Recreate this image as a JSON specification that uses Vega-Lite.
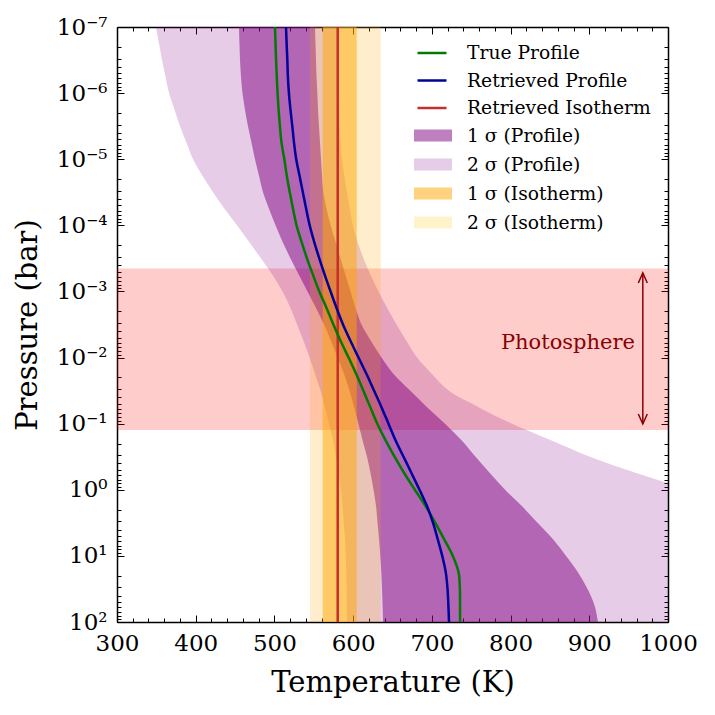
{
  "$schema": "https://vega.github.io/schema/vega-lite/v6.json",
  "width": 551,
  "height": 595,
  "autosize": {"type": "none"},
  "padding": {"left": 117, "top": 27, "right": 47, "bottom": 93},
  "config": {
    "view": {"stroke": null},
    "font": "DejaVu Serif",
    "axis": {
      "grid": false,
      "domain": false,
      "labelFont": "DejaVu Serif",
      "labelFontSize": 23,
      "labelColor": "#000",
      "tickColor": "#000",
      "tickWidth": 1,
      "titleFont": "DejaVu Serif",
      "titleFontSize": 29,
      "titleFontWeight": "normal",
      "titleColor": "#000",
      "labelFlush": false,
      "labelOverlap": false,
      "labelBound": false,
      "zindex": 1
    },
    "legend": {
      "labelFont": "DejaVu Serif",
      "labelFontSize": 18.7,
      "labelColor": "#000",
      "labelLimit": 400
    }
  },
  "datasets": {
    "profile": [
      {"p": 1e-7, "t_true": 500.7, "t_ret": 514.7, "s1_lo": 455.0, "s1_hi": 551.6, "s2_lo": 349.5, "s2_hi": 580.8},
      {"p": 1.778e-7, "t_true": 501.4, "t_ret": 515.5, "s1_lo": 455.6, "s1_hi": 552.2, "s2_lo": 353.4, "s2_hi": 581.0},
      {"p": 3.162e-7, "t_true": 502.1, "t_ret": 516.4, "s1_lo": 456.3, "s1_hi": 552.8, "s2_lo": 357.2, "s2_hi": 581.4},
      {"p": 5.623e-7, "t_true": 503.0, "t_ret": 517.1, "s1_lo": 457.5, "s1_hi": 553.5, "s2_lo": 361.6, "s2_hi": 581.7},
      {"p": 1e-6, "t_true": 504.0, "t_ret": 518.4, "s1_lo": 459.4, "s1_hi": 554.5, "s2_lo": 366.1, "s2_hi": 582.1},
      {"p": 1.778e-6, "t_true": 505.3, "t_ret": 520.4, "s1_lo": 462.6, "s1_hi": 555.4, "s2_lo": 373.1, "s2_hi": 582.3},
      {"p": 3.162e-6, "t_true": 507.0, "t_ret": 522.7, "s1_lo": 466.4, "s1_hi": 556.6, "s2_lo": 380.0, "s2_hi": 582.7},
      {"p": 5.623e-6, "t_true": 509.0, "t_ret": 524.9, "s1_lo": 470.9, "s1_hi": 557.9, "s2_lo": 388.3, "s2_hi": 584.0},
      {"p": 1e-5, "t_true": 512.6, "t_ret": 527.7, "s1_lo": 475.3, "s1_hi": 559.2, "s2_lo": 396.6, "s2_hi": 585.9},
      {"p": 1.778e-5, "t_true": 515.7, "t_ret": 531.9, "s1_lo": 480.4, "s1_hi": 560.5, "s2_lo": 408.6, "s2_hi": 588.8},
      {"p": 3.162e-5, "t_true": 519.5, "t_ret": 536.1, "s1_lo": 485.5, "s1_hi": 562.1, "s2_lo": 422.0, "s2_hi": 592.2},
      {"p": 5.623e-5, "t_true": 523.6, "t_ret": 540.3, "s1_lo": 493.1, "s1_hi": 566.2, "s2_lo": 436.6, "s2_hi": 595.8},
      {"p": 1e-4, "t_true": 528.1, "t_ret": 544.8, "s1_lo": 501.4, "s1_hi": 571.3, "s2_lo": 452.5, "s2_hi": 599.6},
      {"p": 1.778e-4, "t_true": 534.5, "t_ret": 550.5, "s1_lo": 510.3, "s1_hi": 577.6, "s2_lo": 467.7, "s2_hi": 605.6},
      {"p": 3.162e-4, "t_true": 541.3, "t_ret": 557.0, "s1_lo": 520.4, "s1_hi": 584.0, "s2_lo": 483.0, "s2_hi": 613.2},
      {"p": 5.623e-4, "t_true": 549.0, "t_ret": 563.9, "s1_lo": 531.2, "s1_hi": 590.3, "s2_lo": 497.6, "s2_hi": 622.1},
      {"p": 1e-3, "t_true": 557.0, "t_ret": 571.3, "s1_lo": 542.0, "s1_hi": 596.7, "s2_lo": 510.3, "s2_hi": 632.2},
      {"p": 1.778e-3, "t_true": 566.2, "t_ret": 578.9, "s1_lo": 552.8, "s1_hi": 603.0, "s2_lo": 520.4, "s2_hi": 643.3},
      {"p": 3.162e-3, "t_true": 574.9, "t_ret": 587.1, "s1_lo": 563.0, "s1_hi": 610.6, "s2_lo": 528.7, "s2_hi": 655.1},
      {"p": 5.623e-3, "t_true": 584.1, "t_ret": 596.7, "s1_lo": 571.9, "s1_hi": 622.7, "s2_lo": 537.0, "s2_hi": 667.8},
      {"p": 0.01, "t_true": 594.2, "t_ret": 606.8, "s1_lo": 580.1, "s1_hi": 636.0, "s2_lo": 544.6, "s2_hi": 681.2},
      {"p": 0.01778, "t_true": 603.9, "t_ret": 617.0, "s1_lo": 588.4, "s1_hi": 651.3, "s2_lo": 551.6, "s2_hi": 700.2},
      {"p": 0.03162, "t_true": 612.9, "t_ret": 626.5, "s1_lo": 595.4, "s1_hi": 672.3, "s2_lo": 558.5, "s2_hi": 721.2},
      {"p": 0.05623, "t_true": 621.8, "t_ret": 636.0, "s1_lo": 601.1, "s1_hi": 693.9, "s2_lo": 564.3, "s2_hi": 759.3},
      {"p": 0.1, "t_true": 630.7, "t_ret": 644.9, "s1_lo": 606.8, "s1_hi": 716.7, "s2_lo": 569.3, "s2_hi": 801.8},
      {"p": 0.1778, "t_true": 641.1, "t_ret": 653.8, "s1_lo": 611.9, "s1_hi": 737.7, "s2_lo": 574.4, "s2_hi": 851.4},
      {"p": 0.3162, "t_true": 652.6, "t_ret": 664.0, "s1_lo": 617.6, "s1_hi": 755.5, "s2_lo": 578.2, "s2_hi": 900.9},
      {"p": 0.5623, "t_true": 665.0, "t_ret": 674.2, "s1_lo": 622.1, "s1_hi": 773.9, "s2_lo": 581.4, "s2_hi": 960.7},
      {"p": 1, "t_true": 678.4, "t_ret": 684.3, "s1_lo": 625.9, "s1_hi": 793.0, "s2_lo": 584.6, "s2_hi": 1025.5},
      {"p": 1.778, "t_true": 692.2, "t_ret": 693.9, "s1_lo": 629.1, "s1_hi": 814.6, "s2_lo": 586.5, "s2_hi": 1091.6},
      {"p": 3.162, "t_true": 704.4, "t_ret": 701.5, "s1_lo": 631.0, "s1_hi": 834.2, "s2_lo": 588.1, "s2_hi": 1155.1},
      {"p": 5.623, "t_true": 715.7, "t_ret": 707.5, "s1_lo": 632.9, "s1_hi": 853.9, "s2_lo": 589.7, "s2_hi": 1218.6},
      {"p": 10, "t_true": 726.6, "t_ret": 713.2, "s1_lo": 634.5, "s1_hi": 870.5, "s2_lo": 590.7, "s2_hi": 1269.4},
      {"p": 17.78, "t_true": 734.0, "t_ret": 717.7, "s1_lo": 635.8, "s1_hi": 885.7, "s2_lo": 591.3, "s2_hi": 1320.2},
      {"p": 31.62, "t_true": 735.6, "t_ret": 719.9, "s1_lo": 636.7, "s1_hi": 897.8, "s2_lo": 591.7, "s2_hi": 1364.7},
      {"p": 56.23, "t_true": 735.8, "t_ret": 721.0, "s1_lo": 637.4, "s1_hi": 906.7, "s2_lo": 592.0, "s2_hi": 1409.2},
      {"p": 100, "t_true": 735.8, "t_ret": 721.8, "s1_lo": 638.0, "s1_hi": 911.1, "s2_lo": 592.2, "s2_hi": 1447.3}
    ],
    "isotherm": [
      {"t_iso": 580.4, "t_1lo": 561.3, "t_1hi": 604.5, "t_2lo": 545.2, "t_2hi": 635.0}
    ],
    "photosphere": [
      {"p_top": 4.5e-4, "p_bot": 0.125, "t_arrow": 968, "p_arrow_top": 5.25e-4, "p_arrow_bot": 0.101, "t_label": 958, "p_label": 6.0e-3, "label": "Photosphere"}
    ],
    "bands": [
      {"band": "1 σ (Profile)"},
      {"band": "2 σ (Profile)"},
      {"band": "1 σ (Isotherm)"},
      {"band": "2 σ (Isotherm)"}
    ]
  },
  "resolve": {"axis": {"x": "independent", "y": "independent"}},
  "layer": [
    {
      "data": {"name": "photosphere"},
      "mark": {"type": "rect", "fill": "#ff0000", "opacity": 0.2},
      "encoding": {
        "y": {"field": "p_top", "type": "quantitative", "scale": {"type": "log", "domain": [1e-7, 100], "reverse": true, "nice": false}, "axis": null},
        "y2": {"field": "p_bot"}
      }
    },
    {
      "data": {"name": "profile"},
      "mark": {"type": "area", "orient": "horizontal", "fill": "#800080", "opacity": 0.2, "interpolate": "catmull-rom", "clip": true},
      "encoding": {
        "x": {
          "field": "s2_lo", "type": "quantitative",
          "scale": {"domain": [300, 1000], "nice": false, "zero": false},
          "axis": {
            "orient": "bottom",
            "values": [300, 400, 500, 600, 700, 800, 900, 1000],
            "format": "d",
            "tickSize": -7,
            "labelPadding": 17,
            "domain": true, "domainColor": "#000", "domainWidth": 1.5,
            "title": "Temperature (K)",
            "titlePadding": 13
          }
        },
        "x2": {"field": "s2_hi"},
        "y": {
          "field": "p", "type": "quantitative",
          "scale": {"type": "log", "domain": [1e-7, 100], "reverse": true, "nice": false},
          "axis": {
            "orient": "left",
            "values": [1e-7, 1e-6, 1e-5, 1e-4, 1e-3, 1e-2, 1e-1, 1, 10, 100],
            "labelExpr": "'10' + (datum.value < 0.5 ? '⁻' : '') + ['⁰','¹','²','³','⁴','⁵','⁶','⁷','⁸','⁹'][abs(round(log(datum.value) / LN10))]",
            "tickSize": -7,
            "labelPadding": 17,
            "domain": true, "domainColor": "#000", "domainWidth": 1.5,
            "title": "Pressure (bar)",
            "titlePadding": 14
          }
        }
      }
    },
    {
      "data": {"name": "profile"},
      "mark": {"type": "area", "orient": "horizontal", "fill": "#800080", "opacity": 0.5, "interpolate": "catmull-rom", "clip": true},
      "encoding": {
        "x": {
          "field": "s1_lo", "type": "quantitative",
          "scale": {"domain": [300, 1000], "nice": false, "zero": false},
          "axis": {
            "orient": "bottom",
            "values": [300, 320, 340, 360, 380, 400, 420, 440, 460, 480, 500, 520, 540, 560, 580, 600, 620, 640, 660, 680, 700, 720, 740, 760, 780, 800, 820, 840, 860, 880, 900, 920, 940, 960, 980, 1000],
            "tickSize": -4, "labels": false, "title": null
          }
        },
        "x2": {"field": "s1_hi"},
        "y": {
          "field": "p", "type": "quantitative",
          "scale": {"type": "log", "domain": [1e-7, 100], "reverse": true, "nice": false},
          "axis": {
            "orient": "left",
            "values": [2e-7, 3e-7, 4e-7, 5e-7, 6e-7, 7e-7, 8e-7, 9e-7, 2e-6, 3e-6, 4e-6, 5e-6, 6e-6, 7e-6, 8e-6, 9e-6, 2e-5, 3e-5, 4e-5, 5e-5, 6e-5, 7e-5, 8e-5, 9e-5, 2e-4, 3e-4, 4e-4, 5e-4, 6e-4, 7e-4, 8e-4, 9e-4, 2e-3, 3e-3, 4e-3, 5e-3, 6e-3, 7e-3, 8e-3, 9e-3, 0.02, 0.03, 0.04, 0.05, 0.06, 0.07, 0.08, 0.09, 0.2, 0.3, 0.4, 0.5, 0.6, 0.7, 0.8, 0.9, 2, 3, 4, 5, 6, 7, 8, 9, 20, 30, 40, 50, 60, 70, 80, 90],
            "tickSize": -4, "labels": false, "title": null
          }
        }
      }
    },
    {
      "data": {"name": "isotherm"},
      "mark": {"type": "rect", "fill": "#ffa500", "opacity": 0.2},
      "encoding": {
        "x": {"field": "t_2lo", "type": "quantitative", "scale": {"domain": [300, 1000], "nice": false, "zero": false}, "axis": null},
        "x2": {"field": "t_2hi"}
      }
    },
    {
      "data": {"name": "isotherm"},
      "mark": {"type": "rect", "fill": "#ffa500", "opacity": 0.5},
      "encoding": {
        "x": {"field": "t_1lo", "type": "quantitative", "scale": {"domain": [300, 1000], "nice": false, "zero": false}, "axis": null},
        "x2": {"field": "t_1hi"}
      }
    },
    {
      "data": {"name": "isotherm"},
      "mark": {"type": "rule", "strokeWidth": 2.5},
      "encoding": {
        "x": {"field": "t_iso", "type": "quantitative", "scale": {"domain": [300, 1000], "nice": false, "zero": false}, "axis": null},
        "stroke": {"datum": "Retrieved Isotherm", "type": "nominal"}
      }
    },
    {
      "data": {"name": "profile"},
      "mark": {"type": "line", "strokeWidth": 2.5, "interpolate": "catmull-rom", "clip": true},
      "encoding": {
        "x": {
          "field": "t_true", "type": "quantitative",
          "scale": {"domain": [300, 1000], "nice": false, "zero": false},
          "axis": {
            "orient": "top",
            "values": [300, 400, 500, 600, 700, 800, 900, 1000],
            "tickSize": -7, "labels": false, "title": null,
            "domain": true, "domainColor": "#000", "domainWidth": 1.5
          }
        },
        "y": {
          "field": "p", "type": "quantitative",
          "scale": {"type": "log", "domain": [1e-7, 100], "reverse": true, "nice": false},
          "axis": {
            "orient": "right",
            "values": [1e-7, 1e-6, 1e-5, 1e-4, 1e-3, 1e-2, 1e-1, 1, 10, 100],
            "tickSize": -7, "labels": false, "title": null,
            "domain": true, "domainColor": "#000", "domainWidth": 1.5
          }
        },
        "order": {"field": "p", "type": "quantitative"},
        "stroke": {
          "datum": "True Profile", "type": "nominal",
          "scale": {"domain": ["True Profile", "Retrieved Profile", "Retrieved Isotherm"], "range": ["#007a00", "#00009c", "#c62d2d"]},
          "legend": {
            "title": null,
            "orient": "none",
            "legendX": 299,
            "legendY": 10,
            "padding": 0,
            "symbolType": "stroke",
            "symbolSize": 841,
            "symbolStrokeWidth": 2.5,
            "labelOffset": 19,
            "rowPadding": 1.5
          }
        }
      }
    },
    {
      "data": {"name": "profile"},
      "mark": {"type": "line", "strokeWidth": 2.5, "interpolate": "catmull-rom", "clip": true},
      "encoding": {
        "x": {
          "field": "t_ret", "type": "quantitative",
          "scale": {"domain": [300, 1000], "nice": false, "zero": false},
          "axis": {
            "orient": "top",
            "values": [300, 320, 340, 360, 380, 400, 420, 440, 460, 480, 500, 520, 540, 560, 580, 600, 620, 640, 660, 680, 700, 720, 740, 760, 780, 800, 820, 840, 860, 880, 900, 920, 940, 960, 980, 1000],
            "tickSize": -4, "labels": false, "title": null
          }
        },
        "y": {
          "field": "p", "type": "quantitative",
          "scale": {"type": "log", "domain": [1e-7, 100], "reverse": true, "nice": false},
          "axis": {
            "orient": "right",
            "values": [2e-7, 3e-7, 4e-7, 5e-7, 6e-7, 7e-7, 8e-7, 9e-7, 2e-6, 3e-6, 4e-6, 5e-6, 6e-6, 7e-6, 8e-6, 9e-6, 2e-5, 3e-5, 4e-5, 5e-5, 6e-5, 7e-5, 8e-5, 9e-5, 2e-4, 3e-4, 4e-4, 5e-4, 6e-4, 7e-4, 8e-4, 9e-4, 2e-3, 3e-3, 4e-3, 5e-3, 6e-3, 7e-3, 8e-3, 9e-3, 0.02, 0.03, 0.04, 0.05, 0.06, 0.07, 0.08, 0.09, 0.2, 0.3, 0.4, 0.5, 0.6, 0.7, 0.8, 0.9, 2, 3, 4, 5, 6, 7, 8, 9, 20, 30, 40, 50, 60, 70, 80, 90],
            "tickSize": -4, "labels": false, "title": null
          }
        },
        "order": {"field": "p", "type": "quantitative"},
        "stroke": {"datum": "Retrieved Profile", "type": "nominal"}
      }
    },
    {
      "data": {"name": "photosphere"},
      "mark": {"type": "rule", "stroke": "#8b0000", "strokeWidth": 1.5},
      "encoding": {
        "x": {"field": "t_arrow", "type": "quantitative", "scale": {"domain": [300, 1000], "nice": false, "zero": false}, "axis": null},
        "y": {"field": "p_arrow_top", "type": "quantitative", "scale": {"type": "log", "domain": [1e-7, 100], "reverse": true, "nice": false}, "axis": null},
        "y2": {"field": "p_arrow_bot"}
      }
    },
    {
      "data": {"name": "photosphere"},
      "mark": {"type": "point", "shape": "M-0.45,1L0,0L0.45,1", "size": 400, "filled": false, "stroke": "#8b0000", "strokeWidth": 1.5, "opacity": 1},
      "encoding": {
        "x": {"field": "t_arrow", "type": "quantitative", "scale": {"domain": [300, 1000], "nice": false, "zero": false}, "axis": null},
        "y": {"field": "p_arrow_top", "type": "quantitative", "scale": {"type": "log", "domain": [1e-7, 100], "reverse": true, "nice": false}, "axis": null}
      }
    },
    {
      "data": {"name": "photosphere"},
      "mark": {"type": "point", "shape": "M-0.45,-1L0,0L0.45,-1", "size": 400, "filled": false, "stroke": "#8b0000", "strokeWidth": 1.5, "opacity": 1},
      "encoding": {
        "x": {"field": "t_arrow", "type": "quantitative", "scale": {"domain": [300, 1000], "nice": false, "zero": false}, "axis": null},
        "y": {"field": "p_arrow_bot", "type": "quantitative", "scale": {"type": "log", "domain": [1e-7, 100], "reverse": true, "nice": false}, "axis": null}
      }
    },
    {
      "data": {"name": "photosphere"},
      "mark": {"type": "text", "align": "right", "baseline": "middle", "font": "DejaVu Serif", "fontSize": 21, "fill": "#8b0000"},
      "encoding": {
        "x": {"field": "t_label", "type": "quantitative", "scale": {"domain": [300, 1000], "nice": false, "zero": false}, "axis": null},
        "y": {"field": "p_label", "type": "quantitative", "scale": {"type": "log", "domain": [1e-7, 100], "reverse": true, "nice": false}, "axis": null},
        "text": {"field": "label"}
      }
    },
    {
      "data": {"name": "bands"},
      "mark": {"type": "square", "opacity": 0},
      "encoding": {
        "fill": {
          "field": "band", "type": "nominal",
          "scale": {"domain": ["1 σ (Profile)", "2 σ (Profile)", "1 σ (Isotherm)", "2 σ (Isotherm)"], "range": ["#bf80bf", "#e6cce6", "#ffd280", "#fff3cc"]},
          "legend": {
            "title": null,
            "orient": "none",
            "legendX": 297,
            "legendY": 89.5,
            "padding": 0,
            "symbolType": "M-1,-0.32H1V0.32H-1Z",
            "symbolSize": 1444,
            "symbolStrokeWidth": 0,
            "symbolOpacity": 1,
            "labelOffset": 15,
            "rowPadding": -1.5
          }
        }
      }
    }
  ]
}
